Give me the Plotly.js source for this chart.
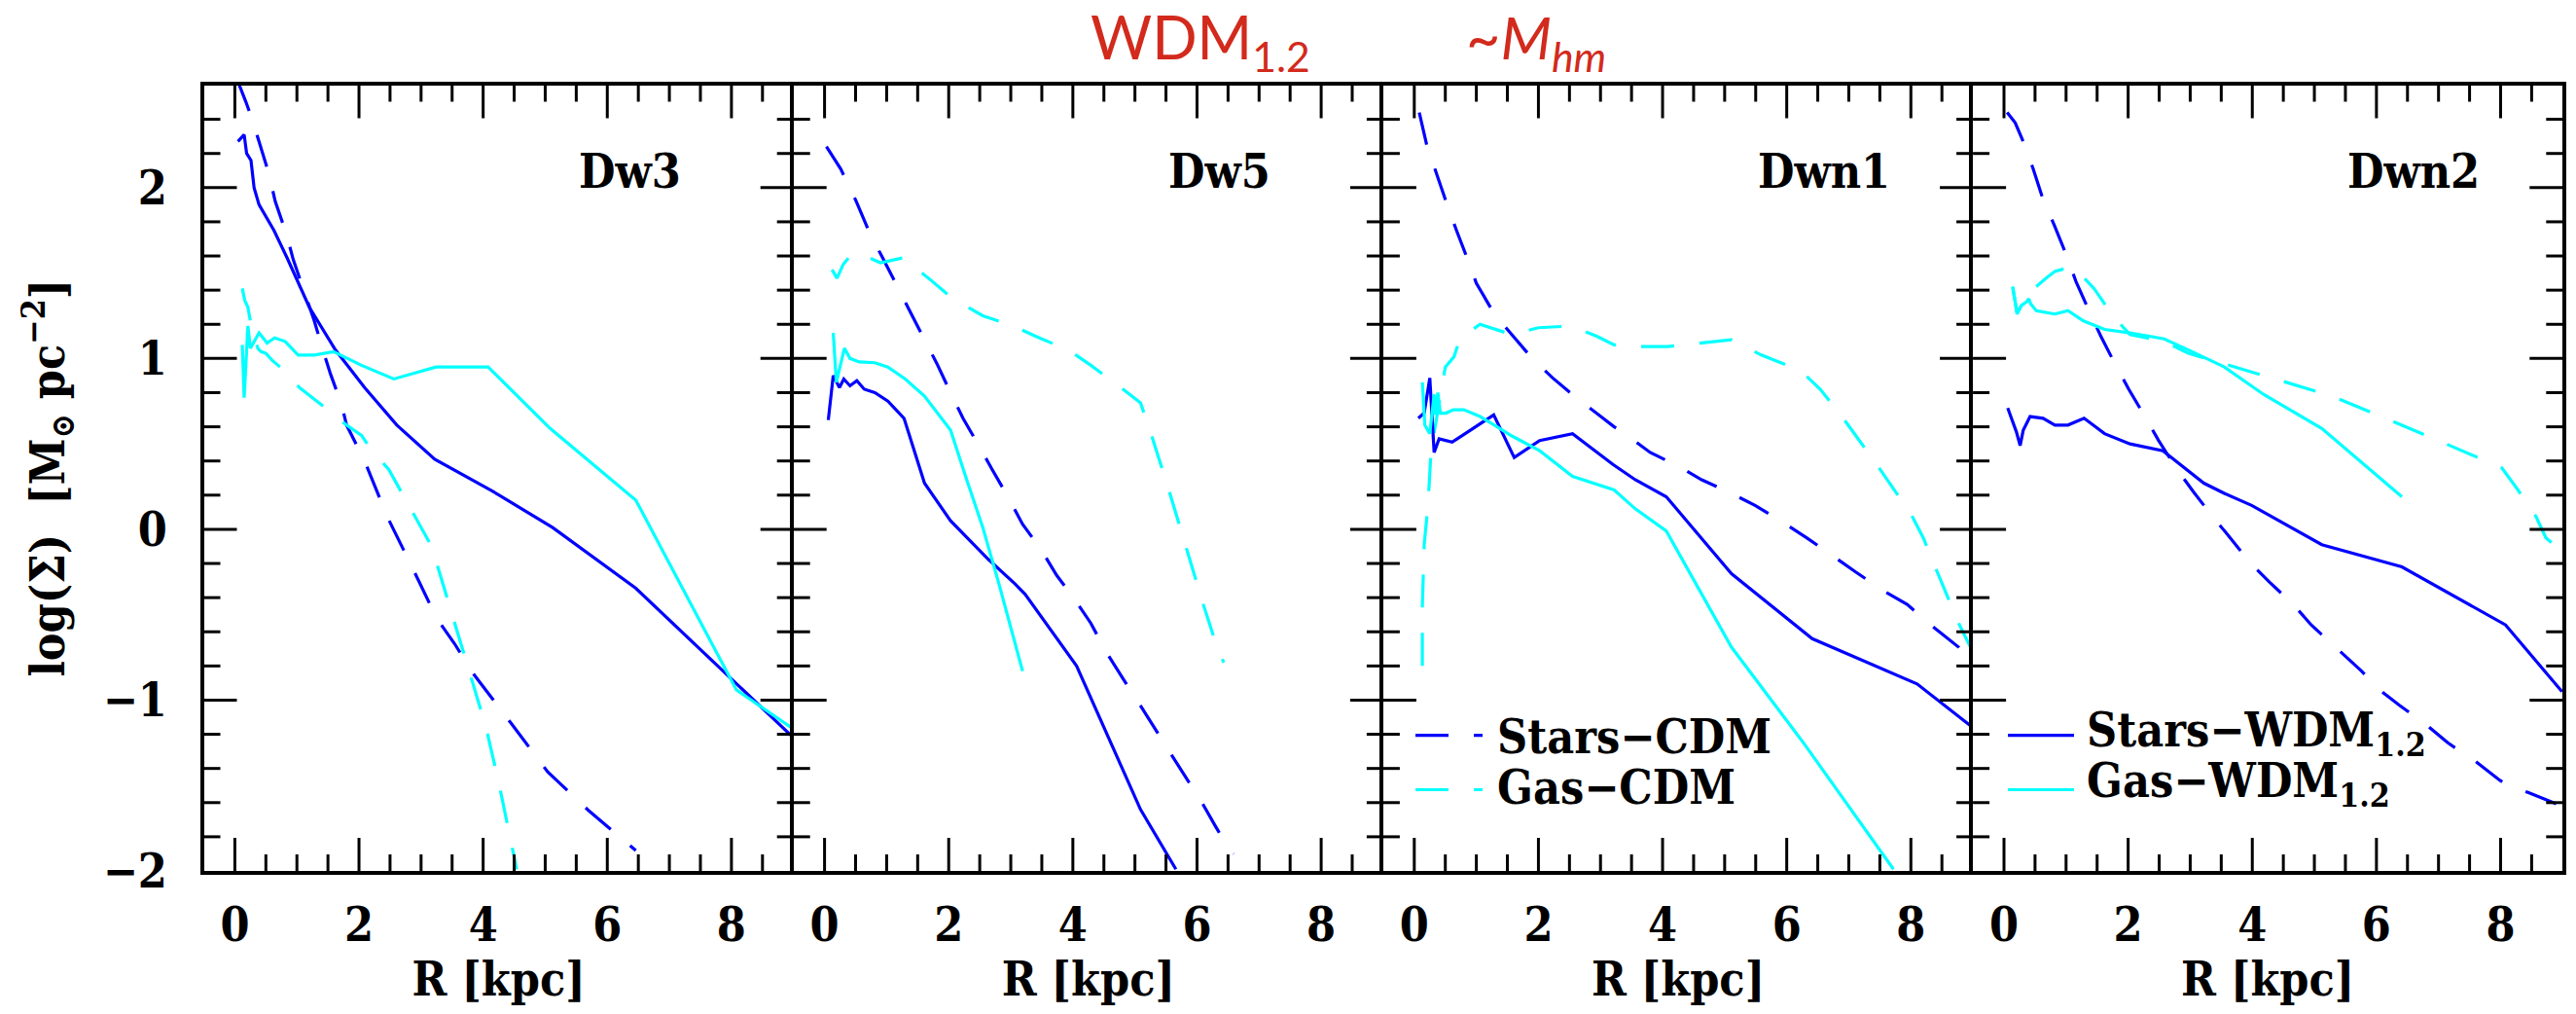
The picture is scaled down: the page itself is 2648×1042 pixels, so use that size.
<!DOCTYPE html>
<html><head><meta charset="utf-8">
<script src="https://cdn.plot.ly/plotly-3.0.1.min.js"></script>
<style>html,body{margin:0;padding:0;background:#fff;}#chart{width:2648px;height:1042px;}</style>
</head><body><div id="chart"></div>
<script>
// ---------- data: R [kpc] and log(Sigma) [Msun pc^-2] ----------
const panelNames = ['Dw3', 'Dw5', 'Dwn1', 'Dwn2'];
const xTickVals = [0, 2, 4, 6, 8];
const yTickVals = [-2, -1, 0, 1, 2];

// Dw3
const dw3StarsCdmR = [0.04, 0.18, 0.26, 0.39, 0.55, 0.65, 0.83, 0.94, 1.10, 1.28, 1.41, 1.54, 1.72, 1.80, 2.09, 2.46, 2.88, 3.25, 3.54, 3.83, 4.46, 5.04, 5.71, 6.46];
const dw3StarsCdmS = [2.63, 2.50, 2.42, 2.27, 2.08, 1.92, 1.73, 1.58, 1.41, 1.22, 1.06, 0.91, 0.73, 0.61, 0.40, 0.07, -0.24, -0.52, -0.67, -0.84, -1.14, -1.42, -1.65, -1.88];
const dw3GasCdmR = [0.12, 0.16, 0.21, 0.25, 0.37, 0.42, 0.50, 0.60, 0.76, 1.04, 1.25, 1.46, 1.80, 2.04, 2.19, 2.48, 2.71, 3.17, 3.46, 3.75, 4.04, 4.25, 4.54];
const dw3GasCdmS = [1.41, 1.34, 1.30, 1.22, 1.06, 1.04, 1.03, 0.99, 0.94, 0.83, 0.77, 0.71, 0.61, 0.55, 0.47, 0.35, 0.20, -0.10, -0.45, -0.80, -1.15, -1.48, -1.99];
const dw3StarsWdmR = [0.05, 0.15, 0.19, 0.26, 0.31, 0.39, 0.63, 0.84, 1.20, 1.62, 2.09, 2.61, 3.22, 4.12, 5.12, 6.46, 8.04, 9.00];
const dw3StarsWdmS = [2.27, 2.31, 2.20, 2.16, 2.00, 1.90, 1.75, 1.59, 1.30, 1.05, 0.83, 0.61, 0.41, 0.23, 0.01, -0.345, -0.89, -1.22];
const dw3GasWdmR = [0.12, 0.15, 0.21, 0.25, 0.39, 0.52, 0.64, 0.81, 1.02, 1.28, 1.59, 2.04, 2.56, 3.24, 4.08, 5.08, 6.46, 8.08, 9.00];
const dw3GasWdmS = [1.08, 0.77, 1.19, 1.06, 1.15, 1.09, 1.12, 1.10, 1.02, 1.02, 1.04, 0.96, 0.88, 0.95, 0.95, 0.59, 0.17, -0.94, -1.17];

// Dw5
const dw5StarsCdmR = [0.03, 0.26, 0.51, 0.72, 0.92, 1.16, 1.37, 1.61, 1.81, 2.03, 2.23, 2.50, 2.70, 2.97, 3.19, 3.49, 3.74, 4.03, 4.29, 4.54, 4.80, 5.05, 5.57, 6.08, 6.30, 6.43, 6.59];
const dw5StarsCdmS = [2.24, 2.11, 1.92, 1.74, 1.60, 1.43, 1.28, 1.11, 0.97, 0.80, 0.65, 0.48, 0.35, 0.18, 0.03, -0.12, -0.27, -0.41, -0.55, -0.72, -0.87, -1.01, -1.31, -1.60, -1.74, -1.82, -1.90];
const dw5GasCdmR = [0.12, 0.20, 0.30, 0.41, 0.54, 0.90, 1.27, 1.40, 1.74, 2.03, 2.16, 2.55, 3.04, 3.46, 3.93, 4.29, 4.70, 5.09, 5.25, 5.53, 5.82, 6.11, 6.27, 6.43];
const dw5GasCdmS = [1.52, 1.47, 1.55, 1.60, 1.62, 1.56, 1.59, 1.55, 1.45, 1.36, 1.33, 1.25, 1.19, 1.12, 1.05, 0.96, 0.85, 0.74, 0.57, 0.25, -0.10, -0.45, -0.63, -0.78];
const dw5StarsWdmR = [0.06, 0.14, 0.24, 0.31, 0.41, 0.52, 0.64, 0.81, 1.02, 1.28, 1.61, 2.03, 2.65, 3.07, 3.23, 4.06, 5.09, 5.66];
const dw5StarsWdmS = [0.64, 0.90, 0.83, 0.88, 0.84, 0.87, 0.82, 0.80, 0.75, 0.65, 0.27, 0.05, -0.18, -0.32, -0.38, -0.80, -1.64, -1.99];
const dw5GasWdmR = [0.14, 0.19, 0.32, 0.41, 0.56, 0.81, 1.02, 1.30, 1.61, 2.03, 2.29, 2.55, 2.81, 3.19];
const dw5GasWdmS = [1.15, 0.86, 1.06, 1.00, 0.98, 0.975, 0.95, 0.88, 0.78, 0.58, 0.29, 0.01, -0.32, -0.83];

// Dwn1
const dwn1StarsCdmR = [0.08, 0.20, 0.52, 0.68, 0.87, 1.00, 1.29, 1.57, 1.90, 2.23, 2.62, 2.99, 3.22, 3.41, 3.80, 4.25, 4.63, 5.11, 5.49, 5.94, 6.32, 6.76, 7.11, 7.56, 7.94, 8.32, 8.77, 8.96];
const dwn1StarsCdmS = [2.44, 2.25, 1.91, 1.75, 1.57, 1.44, 1.26, 1.14, 1.00, 0.886, 0.767, 0.665, 0.60, 0.555, 0.45, 0.37, 0.29, 0.21, 0.14, 0.04, -0.05, -0.16, -0.25, -0.36, -0.44, -0.56, -0.69, -0.77];
const dwn1GasCdmR = [0.13, 0.13, 0.16, 0.21, 0.24, 0.27, 0.50, 0.64, 0.74, 1.06, 1.57, 2.00, 2.52, 2.94, 3.22, 3.41, 4.09, 5.11, 5.59, 6.22, 6.54, 6.89, 7.43, 8.00, 8.20, 8.39, 8.77, 8.96];
const dwn1GasCdmS = [-0.80, -0.45, -0.09, 0.10, 0.26, 0.46, 0.95, 1.01, 1.12, 1.20, 1.14, 1.18, 1.19, 1.13, 1.08, 1.07, 1.07, 1.11, 1.02, 0.93, 0.82, 0.66, 0.39, 0.09, -0.05, -0.22, -0.55, -0.69];
const dwn1StarsWdmR = [0.065, 0.16, 0.25, 0.32, 0.40, 0.61, 0.82, 1.28, 1.61, 2.02, 2.55, 3.20, 3.56, 4.06, 5.11, 6.41, 8.10, 8.96];
const dwn1StarsWdmS = [0.65, 0.68, 0.886, 0.45, 0.53, 0.51, 0.56, 0.67, 0.42, 0.52, 0.56, 0.38, 0.29, 0.19, -0.26, -0.64, -0.905, -1.15];
const dwn1GasWdmR = [0.13, 0.17, 0.25, 0.32, 0.34, 0.38, 0.42, 0.51, 0.63, 0.80, 1.06, 1.29, 1.58, 2.02, 2.55, 3.22, 3.56, 4.06, 5.11, 6.29, 7.72];
const dwn1GasWdmS = [0.86, 0.61, 0.56, 0.79, 0.67, 0.80, 0.68, 0.68, 0.70, 0.70, 0.66, 0.61, 0.545, 0.46, 0.31, 0.23, 0.12, -0.01, -0.69, -1.26, -1.99];

// Dwn2
const dwn2StarsCdmR = [0.05, 0.18, 0.31, 0.47, 0.63, 0.81, 1.00, 1.16, 1.37, 1.56, 1.80, 2.01, 2.27, 2.49, 2.78, 3.05, 3.37, 3.60, 3.95, 4.28, 4.66, 4.95, 5.34, 5.76, 6.05, 6.37, 6.79, 7.15, 7.60, 7.99, 8.12, 8.44, 8.99];
const dwn2StarsCdmS = [2.44, 2.38, 2.27, 2.11, 1.93, 1.78, 1.61, 1.45, 1.28, 1.13, 0.96, 0.82, 0.66, 0.52, 0.355, 0.22, 0.07, -0.03, -0.19, -0.31, -0.44, -0.56, -0.69, -0.83, -0.94, -1.03, -1.14, -1.25, -1.36, -1.47, -1.50, -1.54, -1.62];
const dwn2GasCdmR = [0.14, 0.21, 0.45, 0.68, 0.82, 1.02, 1.16, 1.45, 1.62, 1.75, 2.03, 2.58, 2.97, 3.44, 4.37, 5.28, 6.21, 7.12, 8.02, 8.28, 8.57, 8.73, 8.99];
const dwn2GasCdmS = [1.42, 1.27, 1.40, 1.47, 1.51, 1.53, 1.52, 1.41, 1.32, 1.25, 1.14, 1.10, 1.03, 0.98, 0.88, 0.78, 0.64, 0.50, 0.36, 0.23, 0.075, -0.05, -0.13];
const dwn2StarsWdmR = [0.06, 0.20, 0.26, 0.31, 0.42, 0.63, 0.82, 1.03, 1.29, 1.62, 2.03, 2.56, 3.22, 3.55, 3.99, 5.12, 6.41, 8.08, 8.99];
const dwn2StarsWdmS = [0.71, 0.57, 0.49, 0.58, 0.66, 0.65, 0.61, 0.61, 0.65, 0.56, 0.50, 0.46, 0.27, 0.21, 0.14, -0.09, -0.22, -0.56, -0.95];
const dwn2GasWdmR = [0.14, 0.21, 0.28, 0.36, 0.40, 0.43, 0.52, 0.82, 1.03, 1.28, 1.62, 2.03, 2.58, 3.03, 3.55, 4.18, 5.12, 6.41];
const dwn2GasWdmS = [1.42, 1.26, 1.31, 1.33, 1.35, 1.32, 1.28, 1.26, 1.28, 1.22, 1.17, 1.15, 1.115, 1.04, 0.95, 0.79, 0.59, 0.19];

const seriesNames = ['Stars\u2212CDM', 'Gas\u2212CDM', 'Stars\u2212WDM<sub>1.2</sub>', 'Gas\u2212WDM<sub>1.2</sub>'];
const panelData = [
  [[dw3StarsCdmR, dw3StarsCdmS], [dw3GasCdmR, dw3GasCdmS], [dw3StarsWdmR, dw3StarsWdmS], [dw3GasWdmR, dw3GasWdmS]],
  [[dw5StarsCdmR, dw5StarsCdmS], [dw5GasCdmR, dw5GasCdmS], [dw5StarsWdmR, dw5StarsWdmS], [dw5GasWdmR, dw5GasWdmS]],
  [[dwn1StarsCdmR, dwn1StarsCdmS], [dwn1GasCdmR, dwn1GasCdmS], [dwn1StarsWdmR, dwn1StarsWdmS], [dwn1GasWdmR, dwn1GasWdmS]],
  [[dwn2StarsCdmR, dwn2StarsCdmS], [dwn2GasCdmR, dwn2GasCdmS], [dwn2StarsWdmR, dwn2StarsWdmS], [dwn2GasWdmR, dwn2GasWdmS]]
];

// ---------- styling ----------
const W = 2648, H = 1042;
const BLUE = '#0000ff', CYAN = '#00ffff';
const DASH = '34px,26px';
const seriesStyle = [
  {color: BLUE, dash: DASH}, {color: CYAN, dash: DASH},
  {color: BLUE, dash: 'solid'}, {color: CYAN, dash: 'solid'}
];
const FONT = 'DejaVu Serif Condensed, DejaVu Serif';
const TXT = (size) => ({family: FONT, size: size, color: '#000', weight: 'bold'});
const plotLeft = 209.5, panelW = 606.2, plotTop = 87.5, plotBottom = 895;
const panelH = plotBottom - plotTop;
const X_RANGE = [-0.5, 9.0], Y_RANGE = [-2, 2.6];
const MAJOR_LEN = 34, MINOR_LEN = 17;

function steps(lo, hi, step) {
  const out = [];
  for (let v = lo; v <= hi + 1e-9; v += step) out.push(Math.round(v * 1000) / 1000);
  return out;
}
const isOn = (v, step) => Math.abs(v / step - Math.round(v / step)) < 1e-6;
const xTickPos = steps(X_RANGE[0], X_RANGE[1], 0.5).filter(v => v > X_RANGE[0] + 1e-6 && v < X_RANGE[1] - 1e-6);
const yTickPos = steps(Y_RANGE[0], Y_RANGE[1], 0.2).filter(v => v > Y_RANGE[0] + 1e-6 && v < Y_RANGE[1] - 1e-6);

const traces = [];
const layout = {
  width: W, height: H,
  margin: {l: 0, r: 0, t: 0, b: 0},
  showlegend: false,
  font: TXT(48),
  annotations: [], shapes: []
};

// tick mark helpers (paper coordinates derived from each panel's domain and range)
function tickLine(x0, y0, x1, y1) {
  return {type: 'line', xref: 'paper', yref: 'paper', layer: 'above',
    x0: x0 / W, x1: x1 / W, y0: 1 - y0 / H, y1: 1 - y1 / H, line: {color: '#000', width: 3}};
}

panelData.forEach((panel, i) => {
  const n = i + 1;
  const sfx = n === 1 ? '' : String(n);
  const xa = 'x' + sfx, ya = 'y' + sfx;
  const left = plotLeft + i * panelW, right = left + panelW;
  panel.forEach((s, k) => {
    traces.push({
      type: 'scatter', mode: 'lines', x: s[0], y: s[1], xaxis: xa, yaxis: ya,
      name: seriesNames[k], hoverinfo: 'skip',
      line: {color: seriesStyle[k].color, width: 3.2, dash: seriesStyle[k].dash, simplify: false}
    });
  });

  layout['xaxis' + sfx] = {
    domain: [left / W, right / W],
    range: X_RANGE, anchor: ya, showline: true, mirror: true, linewidth: 4, linecolor: '#000',
    showgrid: false, zeroline: false, ticks: '',
    tickmode: 'array', tickvals: xTickVals,
    tickfont: TXT(48), ticklabelstandoff: 10,
    title: {text: 'R [kpc]', font: TXT(48), standoff: 12}
  };
  const yCfg = {
    domain: [(H - plotBottom) / H, (H - plotTop) / H],
    range: Y_RANGE, anchor: xa, showline: true, mirror: n === 4, linewidth: 4, linecolor: '#000',
    showgrid: false, zeroline: false, ticks: '',
    tickmode: 'array', tickvals: yTickVals,
    showticklabels: n === 1, tickfont: TXT(48), ticklabelstandoff: 24
  };
  if (n === 1) {
    yCfg.title = {text: 'log(\u03A3) \u00A0[M<sub>\u2299</sub> pc<sup>\u22122</sup>]', font: TXT(48), standoff: 25};
  }
  layout['yaxis' + sfx] = yCfg;

  // inside tick marks on all four sides
  xTickPos.forEach(v => {
    const len = isOn(v, 2) ? MAJOR_LEN : MINOR_LEN;
    const px = left + (v - X_RANGE[0]) / (X_RANGE[1] - X_RANGE[0]) * panelW;
    layout.shapes.push(tickLine(px, plotBottom, px, plotBottom - len));
    layout.shapes.push(tickLine(px, plotTop, px, plotTop + len));
  });
  yTickPos.forEach(v => {
    const len = isOn(v, 1) ? MAJOR_LEN : MINOR_LEN;
    const py = plotBottom - (v - Y_RANGE[0]) / (Y_RANGE[1] - Y_RANGE[0]) * panelH;
    layout.shapes.push(tickLine(left, py, left + len, py));
    layout.shapes.push(tickLine(right, py, right - len, py));
  });

  layout.annotations.push({
    xref: 'paper', yref: 'paper', x: (left + 383) / W, y: 1 - 176.5 / H,
    xanchor: 'left', yanchor: 'middle', showarrow: false, text: panelNames[i], font: TXT(48)
  });
});

// legends drawn inside panels 3 (CDM) and 4 (WDM)
const legendRows = [755.6, 811.5];
const legendTextCenters = [758, 810];
function addLegend(x0, x1, xt, ks) {
  ks.forEach((k, r) => {
    layout.shapes.push({type: 'line', xref: 'paper', yref: 'paper',
      x0: x0 / W, x1: x1 / W, y0: 1 - legendRows[r] / H, y1: 1 - legendRows[r] / H,
      line: {color: seriesStyle[k].color, width: 3.2, dash: seriesStyle[k].dash}});
    layout.annotations.push({xref: 'paper', yref: 'paper', x: xt / W, y: 1 - (legendTextCenters[r] + 28.5) / H,
      xanchor: 'left', yanchor: 'bottom', showarrow: false, text: seriesNames[k], font: TXT(48)});
  });
}
addLegend(1455, 1524, 1537, [0, 1]);
addLegend(2064, 2132, 2143, [2, 3]);

// red header
const RED = {family: 'Lato', size: 61, color: '#d22a1c', weight: 'normal'};
layout.annotations.push({xref: 'paper', yref: 'paper', x: 1120 / W, y: 1, xanchor: 'left', yanchor: 'top',
  showarrow: false, text: 'WDM<sub>1.2</sub>', font: RED, borderpad: 0});
layout.annotations.push({xref: 'paper', yref: 'paper', x: 1506 / W, y: 1, xanchor: 'left', yanchor: 'top',
  showarrow: false, text: '~<i>M<sub>hm</sub></i>', font: RED, borderpad: 0});

Plotly.newPlot('chart', traces, layout, {staticPlot: true, displayModeBar: false});
</script></body></html>
